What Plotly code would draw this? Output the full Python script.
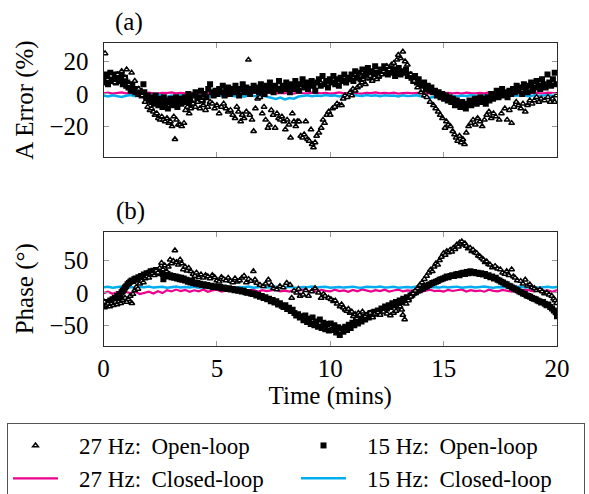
import plotly.graph_objects as go

# ---------------- data ----------------
# closed-loop lines sampled every 0.2 min
t_cl = [round(i * 0.2, 1) for i in range(101)]

a_cl15 = [-1.0,-1.6,-0.8,-1.4,-1.9,-1.1,-0.7,-1.5,-1.2,-0.9,
          -1.7,-1.3,-0.6,-1.1,-1.8,-1.0,-1.4,-0.8,-1.6,-1.2,
          -0.9,-1.5,-1.1,-1.9,-1.3,-0.7,-1.2,-1.6,-1.0,-1.4,
          -1.1,-1.7,-0.9,-1.3,-1.5,-1.0,-1.8,-2.6,-3.1,-2.2,
          -3.4,-2.5,-2.9,-1.6,-1.2,-0.8,-1.4,-1.0,-1.3,-0.7,
          -1.1,-0.9,-1.5,-0.8,-1.2,-0.6,-1.0,-1.3,-0.7,-1.1,
          -0.9,-1.4,-0.8,-1.2,-1.0,-1.6,-0.9,-1.3,-1.1,-0.8,
          -1.4,-1.9,-2.3,-1.7,-2.1,-1.5,-1.8,-1.2,-1.6,-1.0,
          -1.3,-0.8,-1.2,-1.5,-0.9,-1.1,-1.4,-0.7,-1.0,-1.3,
          -0.9,-1.2,-0.8,-1.1,-1.5,-0.9,-1.3,-1.0,-0.7,-1.2,
          -1.0]
a_cl27 = [0.4,0.8,0.2,0.6,0.9,0.3,0.5,0.7,0.1,0.6,
          0.8,0.4,0.2,0.7,0.5,0.9,0.3,0.6,0.4,0.8,
          0.2,0.5,0.7,0.3,0.9,0.4,0.6,0.2,0.8,0.5,
          0.3,0.7,0.4,0.6,0.9,0.2,0.5,0.8,0.3,0.6,
          0.4,0.7,0.2,0.9,0.5,0.3,0.8,0.6,0.4,0.7,
          0.2,0.5,0.9,0.3,0.6,0.8,0.4,0.2,0.7,0.5,
          0.9,0.3,0.6,0.4,0.8,0.2,0.5,0.7,0.3,0.6,
          0.4,0.8,0.2,0.5,0.9,0.3,0.7,0.4,0.6,0.2,
          0.8,0.5,0.3,0.7,0.4,0.9,0.6,0.2,0.5,0.8,
          0.3,0.6,0.4,0.7,0.2,0.9,0.5,0.3,0.8,0.6,
          0.4]
p_cl15 = [8.6,9.4,7.9,8.8,9.7,8.2,8.9,7.6,9.1,8.4,
          9.6,8.0,8.7,9.3,7.8,8.5,9.5,8.1,9.0,8.3,
          9.2,7.7,8.8,9.6,8.2,8.9,7.9,9.4,8.6,8.0,
          9.1,8.4,9.7,7.8,8.7,9.3,8.1,8.9,9.5,7.9,
          8.6,9.2,8.3,7.7,9.0,8.5,9.6,8.2,8.8,9.4,
          7.9,8.6,9.1,8.0,8.7,9.5,8.3,7.8,9.2,8.9,
          8.4,9.7,8.1,8.6,9.3,7.9,8.8,9.0,8.2,9.6,
          8.5,7.8,9.1,8.7,8.0,9.4,8.3,8.9,9.5,7.7,
          8.6,9.2,8.1,8.8,9.7,8.4,7.9,9.0,8.5,9.3,
          8.2,8.9,9.6,8.0,8.7,9.1,7.8,8.6,9.4,8.3,
          8.8]
p_cl27 = [-0.5,1.8,-1.6,0.9,-2.2,1.4,-0.8,2.0,-1.9,0.3,
          1.6,-1.2,2.3,-0.4,4.2,2.1,5.0,2.6,4.6,1.7,
          3.9,2.4,5.2,1.5,3.8,4.7,2.0,3.3,5.1,1.9,
          4.4,2.8,3.6,5.0,1.6,4.1,2.5,3.7,4.9,2.2,
          3.4,1.8,4.6,2.9,5.3,2.3,3.9,1.7,4.5,3.0,
          2.1,4.8,2.7,3.6,1.5,4.3,2.4,5.1,3.2,1.9,
          4.0,2.6,4.7,1.8,3.5,5.0,2.2,3.8,2.9,4.4,
          1.6,3.7,4.9,2.5,3.3,1.9,4.6,2.8,3.9,5.2,
          2.0,4.2,2.7,3.5,1.7,4.8,3.1,2.3,4.5,3.6,
          1.8,4.0,2.6,5.0,3.2,2.1,4.4,2.9,3.7,1.6,
          4.1]

# (a) amplitude error, 27 Hz open-loop (triangles)
a_ol27_t = [0.07,0.18,0.33,0.5,0.62,0.8,0.95,1.02,1.12,1.24,1.38,1.55,1.7,1.83,1.95,
            2.05,2.12,2.2,2.27,2.35,2.42,2.5,2.57,2.64,2.72,2.8,2.88,2.95,3.02,3.1,
            3.15,3.22,3.3,3.38,3.45,3.55,3.62,3.7,3.78,3.85,3.95,4.05,4.15,4.25,4.33,
            4.4,4.5,4.6,4.7,4.8,4.9,5.0,5.1,5.2,5.3,5.4,5.5,5.6,5.7,5.8,
            5.88,5.95,6.05,6.12,6.2,6.3,6.39,6.45,6.55,6.62,6.7,6.8,6.9,7.0,7.08,
            7.15,7.25,7.32,7.4,7.48,7.57,7.65,7.72,7.8,7.87,7.95,8.02,8.1,8.18,8.25,
            8.33,8.4,8.48,8.55,8.62,8.7,8.78,8.85,8.92,9.0,9.07,9.15,9.2,9.26,9.33,
            9.4,9.5,9.6,9.68,9.75,9.85,9.93,10.0,10.1,10.2,10.3,10.4,10.5,10.57,10.65,
            10.75,10.88,10.95,11.0,11.1,11.2,11.3,11.4,11.46,11.55,11.65,11.76,11.85,11.95,12.05,
            12.15,12.27,12.35,12.5,12.6,12.7,12.8,12.94,13.0,13.1,13.2,13.3,13.4,13.55,13.7,
            13.85,14.0,14.15,14.26,14.4,14.55,14.65,14.76,14.85,14.95,15.06,15.12,15.2,15.3,15.4,
            15.48,15.55,15.62,15.7,15.78,15.85,15.92,16.0,16.1,16.2,16.3,16.4,16.5,16.6,16.7,
            16.8,16.9,17.0,17.1,17.2,17.3,17.45,17.55,17.7,17.8,17.9,18.0,18.1,18.2,18.3,
            18.4,18.5,18.6,18.7,18.8,18.9,19.0,19.1,19.2,19.3,19.45,19.6,19.7,19.8,19.9,
            19.97]
a_ol27_v = [25,9,11,7,12,14,10,15,6,13,8,3,-1,-5,-8,
            -10,-9,-11,-13,-12,-15,-16,-14,-16,-17,-15,-18,-17,-20,-14,
            -28,-16,-19,-19,-20,-18,-10,-8,-12,-9,-6,-8,-5,-9,-4,
            -7,-10,-8,-5,-6,-9,-7,-12,-8,-6,-9,-11,-10,-13,-15,
            -8,-11,-17,-13,-15,-11,21,-13,-16,-23,-9,-3,-2,-12,-8,
            -16,-21,-19,-10,-13,-21,-12,-15,-16,-14,-17,-22,-16,-19,-27,
            -12,-17,-20,-17,-17,-26,-27,-25,-17,-28,-29,-22,-31,-33,-30,
            -26,-24,-21,-16,-18,-13,-11,-13,-9,-8,-6,-7,-7,-3,-1,
            -2,1,-1,3,2,4,5,7,9,6,10,11,8,10,9,
            11,12,14,17,15,18,19,21,24,22,26,20,18,12,8,
            4,1,-1,-2,-5,-7,-9,-11,-13,-15,-21,-17,-19,-20,-23,
            -25,-27,-29,-26,-30,-28,-31,-24,-20,-18,-16,-19,-15,-17,-20,
            -16,-13,-11,-15,-12,-14,-16,-12,-9,-16,-10,-18,-8,-5,-7,
            -9,-6,-11,-7,-4,-6,-4,-2,-5,-3,-4,-2,-5,-3,-5,
            -1]

# (a) amplitude error, 15 Hz open-loop (squares)
a_ol15_t = [0.0,0.05,0.1,0.15,0.2,0.25,0.3,0.35,0.4,0.45,0.5,0.55,0.6,0.65,0.7,0.75,0.8,0.85,0.9,0.95,1.0,
            1.05,1.1,1.15,1.2,1.27,1.33,1.4,1.47,1.53,1.6,1.68,1.76,1.8,
            1.88,1.95,2.0,2.06,2.12,2.18,2.24,2.3,2.36,2.42,2.48,2.54,2.6,2.66,2.72,2.78,2.84,2.9,2.96,3.02,3.08,3.14,3.2,3.26,3.32,3.38,3.44,3.5,
            3.58,3.66,3.74,3.82,3.9,3.98,4.06,4.14,4.22,4.3,4.38,4.46,4.54,4.62,4.7,4.78,4.86,4.94,
            5.02,5.1,5.18,5.26,5.34,5.42,5.5,5.58,5.66,5.74,5.82,5.9,5.98,6.06,6.14,6.22,6.3,6.38,6.46,6.54,6.62,
            6.7,6.78,6.86,6.94,7.02,7.1,7.18,7.26,7.34,7.42,7.5,7.58,7.66,7.74,7.82,7.9,7.98,8.06,8.14,8.22,8.3,8.38,8.46,8.54,8.62,8.7,8.78,8.86,8.94,9.02,9.1,9.18,9.26,9.34,
            9.42,9.5,9.58,9.66,9.74,9.82,9.9,9.98,10.06,10.14,10.22,10.3,10.38,10.46,10.54,10.62,10.7,10.78,10.86,
            10.94,11.02,11.1,11.18,11.26,11.34,11.42,11.5,11.58,11.66,11.74,11.82,11.9,11.98,12.06,12.14,12.22,12.3,12.38,
            12.46,12.54,12.62,12.7,12.78,12.86,12.94,13.02,13.1,13.18,13.26,13.34,13.42,
            13.5,13.58,13.66,13.74,13.82,13.9,13.98,14.06,14.14,14.22,14.3,14.38,14.46,14.54,14.62,14.7,14.78,14.86,14.94,15.02,15.1,15.18,15.26,
            15.34,15.42,15.5,15.58,15.66,15.74,15.82,15.9,15.98,16.06,16.14,16.22,16.3,16.38,16.46,16.54,16.62,16.7,16.78,16.86,
            16.94,17.02,17.1,17.18,17.26,17.34,17.42,17.5,17.58,17.66,17.74,17.82,17.9,17.98,
            18.06,18.14,18.22,18.3,18.38,18.46,18.54,18.62,18.7,18.78,18.86,18.94,19.02,19.1,19.18,19.26,19.34,19.42,19.5,19.58,19.66,19.74,19.82,19.9,19.98]
a_ol15_v = [7,11,9,12,6,10,13,8,11,9,12,7,10,12,8,9,11,6,8,10,5,
            7,4,6,2,5,3,1,3,0,2,-1,6,1,
            -2,-1,-4,-2,-5,-3,-6,-1,-4,-7,-3,-5,-8,-2,-6,-4,-9,-5,-3,-7,-4,-6,-2,-8,-5,-3,-6,-4,
            -2,-5,0,-3,-6,-1,1,-3,-2,2,-4,0,-2,3,6,1,-1,2,
            0,3,1,5,-1,2,4,0,3,1,5,2,-1,3,6,1,4,2,0,3,5,
            2,4,1,6,3,0,5,2,7,4,1,5,3,8,2,5,3,7,4,1,6,3,8,5,2,6,9,4,7,3,6,8,5,2,
            7,9,5,11,6,8,4,9,7,11,6,9,5,10,8,12,7,10,9,
            12,8,14,10,13,9,15,11,13,16,10,14,12,17,13,11,15,13,17,
            14,12,16,13,15,11,14,16,12,14,13,15,11,
            12,10,8,11,7,9,6,5,7,3,5,2,4,1,2,-1,1,-2,0,-3,-1,-4,-2,
            -5,-3,-7,-4,-6,-8,-5,-7,-9,-6,-4,-7,-5,-3,-6,-4,-2,-5,-3,-6,
            -2,-4,0,-3,-1,2,-2,0,3,-1,1,-2,2,0,
            3,1,5,2,4,0,6,3,1,5,7,2,4,8,5,3,9,6,4,12,7,5,9,13,6]

# (b) phase, 27 Hz open-loop (triangles)
p_ol27_t = [0.05,0.12,0.2,0.28,0.36,0.44,0.52,0.6,0.68,0.76,0.85,0.95,1.02,1.1,1.18,
            1.25,1.3,1.38,1.45,1.52,1.6,1.68,1.76,1.84,1.92,2.0,2.08,2.16,2.24,2.32,
            2.4,2.48,2.56,2.62,2.7,2.78,2.86,2.94,3.0,3.08,3.15,3.22,3.3,3.38,3.45,
            3.52,3.6,3.68,3.76,3.85,3.95,4.03,4.1,4.2,4.3,4.4,4.5,4.6,4.7,4.8,
            4.9,5.0,5.1,5.2,5.3,5.4,5.5,5.6,5.7,5.8,5.9,6.0,6.1,6.2,6.3,
            6.4,6.5,6.61,6.68,6.76,6.9,7.05,7.15,7.27,7.4,7.5,7.64,7.78,7.93,8.08,
            8.23,8.3,8.4,8.52,8.6,8.67,8.8,8.92,9.04,9.18,9.33,9.48,9.6,9.7,9.77,
            9.92,10.03,10.14,10.22,10.3,10.43,10.5,10.58,10.66,10.73,10.8,10.87,10.95,11.02,11.1,
            11.17,11.24,11.3,11.42,11.54,11.65,11.76,11.87,11.98,12.1,12.2,12.35,12.5,12.65,12.79,
            12.9,13.0,13.08,13.15,13.2,13.28,13.35,13.45,13.55,13.65,13.75,13.85,13.95,14.05,14.15,
            14.25,14.35,14.42,14.5,14.58,14.66,14.74,14.82,14.9,15.0,15.07,15.14,15.22,15.29,15.36,
            15.43,15.5,15.58,15.65,15.7,15.8,15.87,15.94,16.0,16.08,16.17,16.24,16.3,16.38,16.46,
            16.53,16.6,16.68,16.76,16.83,16.9,16.98,17.05,17.15,17.27,17.38,17.5,17.6,17.7,17.78,
            17.88,18.0,18.08,18.15,18.25,18.4,18.5,18.6,18.7,18.8,18.9,19.0,19.1,19.25,19.35,
            19.45,19.55,19.65,19.77,19.85,19.92,19.98]
p_ol27_v = [-14,-19,-17,-21,-16,-19,-14,-18,-13,-16,-11,-8,-14,-10,-5,
            -16,-2,4,9,6,14,18,16,22,25,23,28,30,27,34,
            31,38,46,36,42,33,40,51,45,49,65,47,43,51,45,
            36,40,34,38,33,29,26,31,24,28,23,27,25,22,27,
            24,19,17,24,21,19,23,18,16,22,17,19,23,26,16,
            21,18,33,20,15,12,10,14,20,12,7,5,10,8,15,
            12,-8,3,0,6,-5,-3,4,-5,2,7,0,-8,-2,-5,
            -8,-10,-13,-12,-17,-21,-18,-23,-26,-28,-25,-31,-29,-36,-33,
            -39,-31,-34,-29,-36,-33,-31,-38,-32,-30,-34,-29,-32,-35,-31,
            -28,-23,-21,-26,-34,-41,-17,-12,-6,-1,3,7,12,16,21,
            26,31,35,33,40,45,43,50,55,61,58,64,62,66,63,
            69,67,74,71,77,79,74,76,72,68,69,64,66,62,61,
            57,56,53,51,47,48,44,43,39,41,37,36,31,29,33,
            27,36,25,23,19,18,14,20,11,13,8,7,4,5,2,
            -1,0,-3,-5,-9,-12,-16]

# (b) phase, 15 Hz open-loop (squares)
p_ol15_t = [0.0,0.05,0.1,0.15,0.2,0.25,0.3,0.35,0.4,0.45,0.5,0.55,0.6,0.65,0.7,0.75,0.8,0.85,0.9,0.95,
            1.0,1.06,1.12,1.18,1.24,1.3,1.36,1.42,1.48,1.54,1.6,1.66,1.72,1.78,1.84,1.9,1.96,2.02,2.08,2.14,2.2,2.26,2.32,2.38,2.44,2.5,2.56,2.62,2.64,
            2.7,2.76,2.82,2.88,2.94,3.0,3.06,3.12,3.18,3.24,3.3,3.36,3.42,3.48,3.54,3.6,3.66,3.72,3.78,3.84,3.9,3.96,4.02,4.08,4.14,4.2,4.26,
            4.34,4.42,4.5,4.58,4.66,4.74,4.82,4.9,4.98,5.06,5.14,5.22,5.3,5.38,5.46,5.54,5.62,5.7,5.78,5.86,5.94,6.02,6.1,6.18,6.26,6.34,6.42,6.5,
            6.58,6.66,6.74,6.82,6.9,6.98,7.06,7.14,7.22,7.3,7.38,7.46,7.54,7.62,7.7,7.78,7.86,7.94,8.02,8.1,8.18,8.26,8.34,8.42,8.5,
            8.58,8.66,8.74,8.82,8.9,8.98,9.06,9.14,9.22,9.3,9.38,9.46,9.54,9.62,9.7,9.78,9.86,9.94,10.02,10.1,10.18,10.26,10.34,10.42,10.5,10.58,10.66,
            10.74,10.82,10.9,10.98,11.06,11.14,11.22,11.3,11.38,11.46,11.54,11.62,11.7,11.78,11.86,11.94,12.02,12.1,12.18,12.26,12.34,12.42,12.5,12.58,12.66,12.74,12.82,12.9,12.98,13.06,13.14,13.22,13.3,
            13.38,13.46,13.54,13.62,13.7,13.78,13.86,13.94,14.02,14.1,14.18,14.26,14.34,14.42,14.5,14.58,14.66,14.74,14.82,14.9,14.98,15.06,15.14,15.22,15.3,15.38,15.46,15.54,15.62,15.7,15.78,15.86,15.94,16.02,16.1,16.18,16.26,
            16.34,16.42,16.5,16.58,16.66,16.74,16.82,16.9,16.98,17.06,17.14,17.22,17.3,17.38,17.46,17.54,17.62,17.7,17.78,17.86,17.94,18.02,18.1,18.18,18.26,18.34,18.42,18.5,18.58,18.66,18.74,18.82,18.9,18.98,19.06,19.14,19.22,19.3,19.38,19.46,19.54,19.62,19.7,19.78,19.86,19.94,20.0]
p_ol15_v = [-18,-21,-16,-19,-14,-17,-12,-15,-10,-13,-8,-10,-5,-7,-2,-4,1,3,5,8,
            10,13,15,17,19,18,21,22,20,24,23,26,25,28,27,30,28,31,33,30,34,32,35,31,33,30,32,29,21,
            28,26,29,25,27,24,26,23,25,22,24,21,23,20,22,19,20,17,19,16,18,15,16,14,15,13,14,
            12,13,11,12,10,11,9,10,9,8,9,7,8,7,6,7,5,6,4,5,3,4,2,3,1,0,1,-1,
            -2,-1,-4,-3,-6,-5,-8,-7,-10,-9,-13,-11,-15,-13,-18,-16,-20,-22,-19,-25,-23,-28,-26,-31,-35,
            -33,-38,-36,-42,-35,-45,-40,-48,-38,-50,-44,-52,-41,-54,-46,-56,-48,-58,-47,-57,-50,-61,-53,-65,-55,-60,-52,
            -57,-49,-54,-46,-50,-43,-47,-40,-44,-37,-41,-34,-38,-31,-35,-29,-32,-27,-30,-24,-27,-21,-24,-19,-22,-16,-19,-14,-17,-12,-14,-9,-11,
            -7,-8,-4,-3,0,1,3,4,6,7,9,10,12,13,15,16,17,18,20,21,22,23,25,24,26,27,26,28,29,27,30,31,29,32,30,33,31,
            32,30,31,29,30,28,29,26,27,24,25,22,23,20,19,17,16,14,13,11,10,8,7,5,4,2,1,-1,-2,-4,-5,-6,-8,-9,-10,-12,-13,-15,-14,-17,-19,-18,-22,-24,-27,-30,-36]

# axis ticks / labels
x_ticks = [0, 5, 10, 15, 20]
a_ticks = [-20, 0, 20]
p_ticks = [-50, 0, 50]

# ---------------- styling ----------------
FONT = "Liberation Serif"
MAG = "#EC008C"
CYA = "#00AEEF"
TICKC = "#9a9a9a"
LINEC = "#2a2a2a"
PAD = "\u2002\u2009"  # extra gap between legend symbol and text

fig = go.Figure()

def add_panel(xa, ya, cl27, cl15, ol27t, ol27v, ol15t, ol15v, legend):
    fig.add_trace(go.Scatter(x=t_cl, y=cl27, mode="lines", xaxis=xa, yaxis=ya,
                             line=dict(color=MAG, width=2.2), name=PAD + "27 Hz: \u2009Closed-loop",
                             legendrank=3, showlegend=legend))
    fig.add_trace(go.Scatter(x=t_cl, y=cl15, mode="lines", xaxis=xa, yaxis=ya,
                             line=dict(color=CYA, width=2.5), name=PAD + "15 Hz: \u2009Closed-loop",
                             legendrank=4, showlegend=legend))
    fig.add_trace(go.Scatter(x=ol15t, y=ol15v, mode="markers", xaxis=xa, yaxis=ya,
                             marker=dict(symbol="square", size=6, color="black"),
                             name=PAD + "15 Hz: \u2009Open-loop", legendrank=2, showlegend=legend))
    fig.add_trace(go.Scatter(x=ol27t, y=ol27v, mode="markers", xaxis=xa, yaxis=ya,
                             marker=dict(symbol="triangle-up", size=5, color="white",
                                         line=dict(color="black", width=1.5)),
                             name=PAD + "27 Hz: \u2009Open-loop", legendrank=1, showlegend=legend))

add_panel("x2", "y2", a_cl27, a_cl15, a_ol27_t, a_ol27_v, a_ol15_t, a_ol15_v, True)
add_panel("x", "y", p_cl27, p_cl15, p_ol27_t, p_ol27_v, p_ol15_t, p_ol15_v, False)

W, H = 589, 494
xdom = [103.5 / W, 557 / W]
top_dom = [1 - 157 / H, 1 - 43 / H]
bot_dom = [1 - 345.5 / H, 1 - 232 / H]

common = dict(showline=True, linecolor=LINEC, linewidth=1, mirror="allticks",
              ticks="inside", ticklen=5, tickcolor=TICKC, tickwidth=1,
              showgrid=False, zeroline=False,
              tickfont=dict(family=FONT, size=25, color="black"))

fig.update_layout(
    width=W, height=H, autosize=False,
    margin=dict(l=0, r=0, t=0, b=0, autoexpand=False),
    paper_bgcolor="white", plot_bgcolor="white",
    font=dict(family=FONT, size=24, color="black"),
    xaxis=dict(domain=xdom, anchor="y", range=[0, 20], tickvals=x_ticks,
               ticklabelstandoff=0,
               title=dict(text="Time (mins)", font=dict(family=FONT, size=25), standoff=0),
               **common),
    xaxis2=dict(domain=xdom, anchor="y2", range=[0, 20], tickvals=x_ticks,
                showticklabels=False, matches="x", **common),
    yaxis=dict(domain=bot_dom, anchor="x", range=[-81, 93.5], tickvals=p_ticks,
               ticklabelstandoff=9,
               title=dict(text="Phase (\u00b0)", font=dict(family=FONT, size=25), standoff=8),
               **common),
    yaxis2=dict(domain=top_dom, anchor="x2", range=[-38.9, 31.4], tickvals=a_ticks,
                ticklabelstandoff=9,
                title=dict(text="A Error (%)", font=dict(family=FONT, size=25), standoff=8),
                **common),
    legend=dict(orientation="h", x=7 / W, xanchor="left", y=1 - 423 / H, yanchor="top",
                bordercolor="#555", borderwidth=1, bgcolor="white",
                font=dict(family=FONT, size=23), itemwidth=45,
                entrywidth=228, entrywidthmode="pixels", tracegroupgap=0,
                traceorder="normal"),
    annotations=[
        dict(text="(a)", x=129 / W, y=1 - 22 / H, xref="paper", yref="paper",
             xanchor="center", yanchor="middle",
             showarrow=False, font=dict(family=FONT, size=25)),
        dict(text="(b)", x=130 / W, y=1 - 211 / H, xref="paper", yref="paper",
             xanchor="center", yanchor="middle",
             showarrow=False, font=dict(family=FONT, size=25)),
    ],
)

fig.write_html("out.html")
